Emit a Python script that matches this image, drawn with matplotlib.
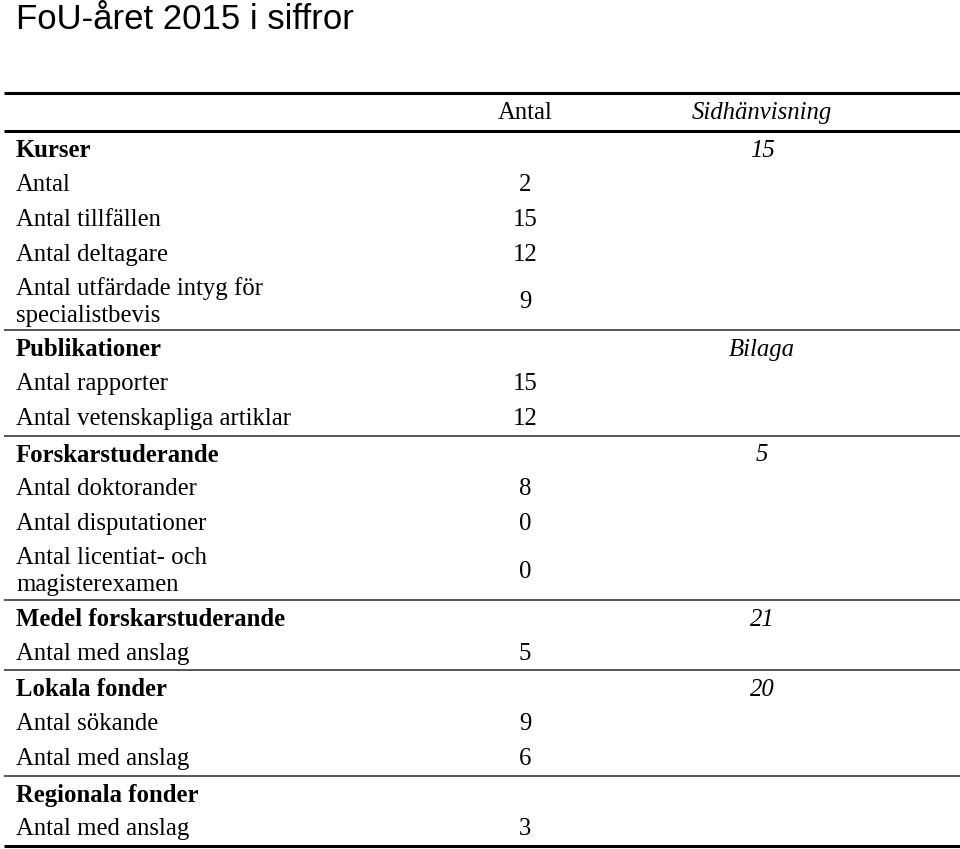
import matplotlib.pyplot as plt

# table content
sections = ["Kurser", "Publikationer", "Forskarstuderande", "Medel forskarstuderande",
            "Lokala fonder", "Regionala fonder"]
section_refs = ["15", "Bilaga", "5", "21", "20", ""]
section_rows = [
    ["Antal", "Antal tillfällen", "Antal deltagare", "Antal utfärdade intyg för\nspecialistbevis"],
    ["Antal rapporter", "Antal vetenskapliga artiklar"],
    ["Antal doktorander", "Antal disputationer", "Antal licentiat- och\nmagisterexamen"],
    ["Antal med anslag"],
    ["Antal sökande", "Antal med anslag"],
    ["Antal med anslag"],
]
section_values = [
    [2, 15, 12, 9],
    [15, 12],
    [8, 0, 0],
    [5],
    [9, 6],
    [3],
]

W, H = 960, 849
fig = plt.figure(figsize=(W / 100, H / 100), dpi=100)
ax = fig.add_axes([0, 0, 1, 1])
ax.set_xlim(0, W)
ax.set_ylim(H, 0)
ax.axis("off")

serif = "Liberation Serif"
fs = 17.8
x_label, x_val, x_ref = 16, 525, 762
row_h, row_h2 = 35.1, 59

ax.text(16, 19, "FoU-året 2015 i siffror", family="Liberation Sans",
        fontsize=25, va="center", ha="left")

top = 93
ax.plot([4, W], [top, top], color="black", lw=2.2, solid_capstyle="butt")
ax.text(x_val, 113, "Antal", family=serif, fontsize=fs, ha="center", va="center")
ax.text(x_ref, 113, "Sidhänvisning", family=serif, fontsize=fs, ha="center", va="center",
        style="italic")
y = 131
ax.plot([4, W], [y, y], color="black", lw=2.2, solid_capstyle="butt")

for i, name in enumerate(sections):
    if i > 0:
        ax.plot([4, W], [y, y], color="#555555", lw=1.4, solid_capstyle="butt")
    yc = y + row_h / 2 + 2
    ax.text(x_label, yc, name, family=serif, fontsize=fs, weight="bold",
            ha="left", va="center")
    if section_refs[i]:
        ax.text(x_ref, yc, section_refs[i], family=serif, fontsize=fs, style="italic",
                ha="center", va="center")
    y += row_h
    for lab, v in zip(section_rows[i], section_values[i]):
        h = row_h2 if "\n" in lab else row_h
        yc = y + h / 2 + 1
        ax.text(x_label, yc, lab, family=serif, fontsize=fs, ha="left", va="center",
                linespacing=1.3)
        ax.text(x_val, yc, str(v), family=serif, fontsize=fs, ha="center", va="center")
        y += h

ax.plot([4, W], [y, y], color="black", lw=2.2, solid_capstyle="butt")

fig.savefig("out.png", dpi=100)
